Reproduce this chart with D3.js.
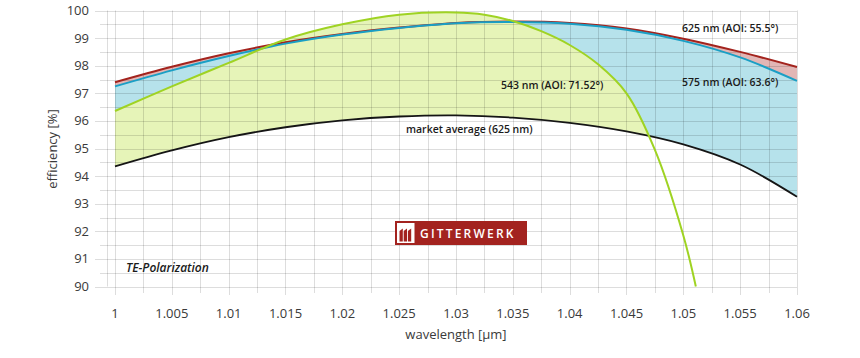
<!DOCTYPE html>
<html>
<head>
<meta charset="utf-8">
<script src="https://cdn.jsdelivr.net/npm/d3@7/dist/d3.min.js"></script>
<style>
  html, body { margin: 0; padding: 0; background: #fff; }
  svg { display: block; }
  text { font-family: "Open Sans", "Noto Sans", sans-serif; }
</style>
</head>
<body>
<svg id="chart" width="860" height="358"></svg>
<script>
// ---- data ----
const xTicks = [1, 1.005, 1.01, 1.015, 1.02, 1.025, 1.03, 1.035, 1.04, 1.045, 1.05, 1.055, 1.06];
const xTickLabels = ["1", "1.005", "1.01", "1.015", "1.02", "1.025", "1.03", "1.035", "1.04", "1.045", "1.05", "1.055", "1.06"];
const yTicks = [90, 91, 92, 93, 94, 95, 96, 97, 98, 99, 100];

const wavelength = [1, 1.005, 1.01, 1.015, 1.02, 1.025, 1.03, 1.035, 1.04, 1.045, 1.05, 1.055, 1.06];
const red625 =    [97.40, 97.96, 98.45, 98.85, 99.15, 99.38, 99.55, 99.60, 99.55, 99.35, 98.98, 98.50, 97.95];
const blue575 =   [97.25, 97.83, 98.35, 98.80, 99.13, 99.37, 99.54, 99.58, 99.52, 99.30, 98.90, 98.30, 97.45];
const market625 = [94.35, 94.93, 95.41, 95.77, 96.02, 96.16, 96.20, 96.12, 95.93, 95.62, 95.15, 94.42, 93.25];

const greenX =   [1, 1.005, 1.01, 1.015, 1.02, 1.025, 1.03, 1.0325, 1.035, 1.0375, 1.04, 1.0425, 1.045, 1.0475, 1.05, 1.0511];
const green543 = [96.36, 97.25, 98.10, 98.95, 99.50, 99.85, 99.93, 99.85, 99.62, 99.25, 98.75, 98.05, 97.00, 94.95, 91.85, 90.00];

const seriesLabels = ["625 nm (AOI: 55.5°)", "575 nm (AOI: 63.6°)", "543 nm (AOI: 71.52°)", "market average (625 nm)"];

// ---- layout ----
const svg = d3.select("#chart");
const x = d3.scaleLinear().domain([1, 1.06]).range([115, 797]);
const y = d3.scaleLinear().domain([90, 100]).range([286.5, 10.5]);

const pts = (xs, ys) => xs.map((v, i) => [v, ys[i]]);
const redPts = pts(wavelength, red625);
const bluePts = pts(wavelength, blue575);
const blackPts = pts(wavelength, market625);
const greenPts = pts(greenX, green543);

const curve = d3.curveCatmullRom.alpha(0.5);
const line = d3.line().x(d => x(d[0])).y(d => y(d[1])).curve(curve);
const areaDown = d3.area().x(d => x(d[0])).y0(y(90)).y1(d => y(d[1])).curve(curve);
const areaUp = d3.area().x(d => x(d[0])).y0(0).y1(d => y(d[1])).curve(curve);

const defs = svg.append("defs");
defs.append("clipPath").attr("id", "aboveBlack")
  .append("path").attr("d", areaUp(blackPts));

// ---- fills ----
const fills = svg.append("g").attr("clip-path", "url(#aboveBlack)");
fills.append("path").attr("d", areaDown(redPts)).attr("fill", "#e2b6b5");
fills.append("path").attr("d", areaDown(bluePts)).attr("fill", "#b6e2eb");
fills.append("path").attr("d", areaDown(greenPts)).attr("fill", "#e6f4b8");

// ---- grid ----
const grid = svg.append("g").attr("stroke", "rgba(0,0,0,0.135)").attr("stroke-width", 1);
const yMinor = d3.range(90, 100.01, 0.5);
yMinor.forEach(v => {
  const major = Math.abs(v - Math.round(v)) < 1e-6;
  grid.append("line")
    .attr("x1", major ? 95 : 100).attr("x2", x(1.06))
    .attr("y1", Math.round(y(v)) + 0.5).attr("y2", Math.round(y(v)) + 0.5);
});
const xMinor = d3.range(0, 25).map(i => 1 + i * 0.0025);
xMinor.forEach((v, i) => {
  const xx = Math.round(x(v)) + 0.5;
  grid.append("line")
    .attr("x1", xx).attr("x2", xx)
    .attr("y1", y(100)).attr("y2", i % 2 === 0 ? 295 : 293);
});
grid.append("line").attr("x1", 107.5).attr("x2", 107.5).attr("y1", y(100)).attr("y2", y(90));

// ---- lines ----
svg.append("path").attr("d", line(blackPts)).attr("fill", "none").attr("stroke", "#151515").attr("stroke-width", 1.8);
svg.append("path").attr("d", line(redPts)).attr("fill", "none").attr("stroke", "#a3231d").attr("stroke-width", 2);
svg.append("path").attr("d", line(bluePts)).attr("fill", "none").attr("stroke", "#1a9fc5").attr("stroke-width", 2);
svg.append("path").attr("d", line(greenPts)).attr("fill", "none").attr("stroke", "#9fd323").attr("stroke-width", 2);

// ---- axes labels ----
const axisColor = "#3a3a3a";
svg.append("g").selectAll("text").data(yTicks).join("text")
  .attr("x", 89).attr("y", d => y(d)).attr("dy", "0.35em")
  .attr("text-anchor", "end").attr("font-size", 13).attr("fill", axisColor)
  .text(d => d);
svg.append("g").selectAll("text").data(xTicks).join("text")
  .attr("x", d => x(d)).attr("y", 313).attr("dy", "0.35em")
  .attr("text-anchor", "middle").attr("font-size", 13).attr("fill", axisColor)
  .text((d, i) => xTickLabels[i]);

svg.append("text").attr("x", 456).attr("y", 334).attr("dy", "0.35em")
  .attr("text-anchor", "middle").attr("font-size", 13).attr("fill", axisColor)
  .text("wavelength [µm]");
svg.append("text").attr("transform", "translate(52,149) rotate(-90)").attr("dy", "0.35em")
  .attr("text-anchor", "middle").attr("font-size", 13).attr("fill", axisColor)
  .text("efficiency [%]");

// ---- series labels ----
const lab = svg.append("g").attr("font-size", 10.5).attr("font-weight", 600).attr("fill", "#1a1a1a");
lab.append("text").attr("x", 682).attr("y", 31.5).text(seriesLabels[0]);
lab.append("text").attr("x", 682).attr("y", 86).text(seriesLabels[1]);
lab.append("text").attr("x", 501).attr("y", 89).text(seriesLabels[2]);
lab.append("text").attr("x", 406).attr("y", 133).text(seriesLabels[3]);

svg.append("text").attr("x", 126).attr("y", 272).attr("font-size", 12)
  .attr("font-style", "italic").attr("font-weight", 600).attr("fill", "#1a1a1a")
  .text("TE-Polarization");

// ---- logo ----
const logo = svg.append("g");
logo.append("rect").attr("x", 395).attr("y", 221).attr("width", 132).attr("height", 24).attr("fill", "#a3231f");
logo.append("rect").attr("x", 397).attr("y", 223).attr("width", 17.5).attr("height", 20).attr("fill", "#ffffff");
[0, 1, 2].forEach(i => {
  const bx = 399.5 + i * 4.2;
  logo.append("path")
    .attr("d", `M${bx},241.5 L${bx},231 L${bx + 3.3},228.5 L${bx + 3.3},241.5 Z`)
    .attr("fill", "#a3231f");
});
logo.append("text").attr("x", 420).attr("y", 233.5).attr("dy", "0.35em")
  .attr("font-size", 12).attr("font-weight", 600).attr("letter-spacing", 2.2)
  .attr("fill", "#ffffff").text("GITTERWERK");
</script>
</body>
</html>
